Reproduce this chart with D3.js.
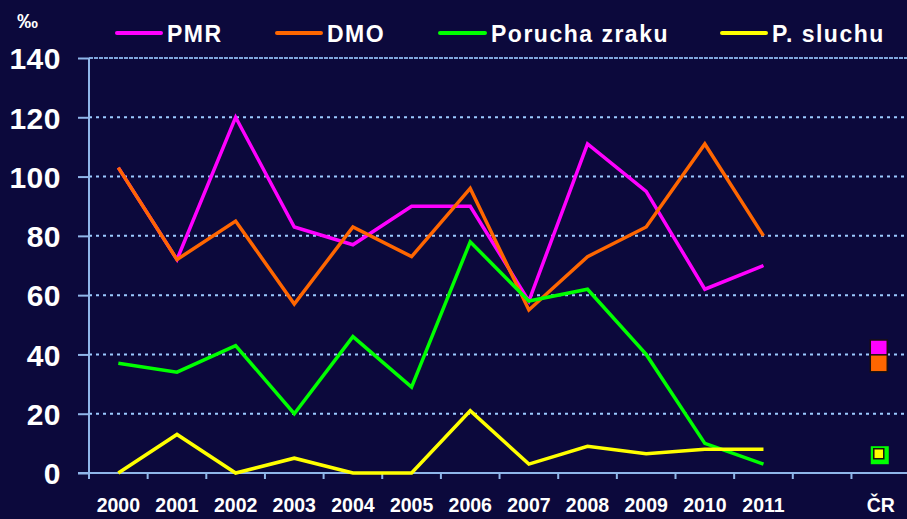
<!DOCTYPE html>
<html>
<head>
<meta charset="utf-8">
<script src="https://cdn.jsdelivr.net/npm/d3@7"></script>
<style>
  body { margin: 0; background: #0c093c; }
  svg { display: block; font-family: Arial, "Liberation Sans", sans-serif; font-weight: bold; }
</style>
</head>
<body>
<script>
// Categories
var years = ["2000","2001","2002","2003","2004","2005","2006","2007","2008","2009","2010","2011"];
var categories = years.concat([" ", "ČR"]);
var yTicks = [0, 20, 40, 60, 80, 100, 120, 140];

// Series values (‰)
var pmr    = [103, 72, 120, 83, 77, 90, 90, 58, 111, 95, 62, 70];
var dmo    = [103, 72, 85, 57, 83, 73, 96, 55, 73, 83, 111, 80];
var zrak   = [37, 34, 43, 20, 46, 29, 78, 58, 62, 40, 10, 3];
var sluch  = [0, 13, 0, 5, 0, 0, 21, 3, 9, 6.5, 8, 8];

// ČR values
var crValues = [42, 37, 6, 6.5];
var seriesNames = ["PMR", "DMO", "Porucha zraku", "P. sluchu"];
var seriesColors = ["#ff00ff", "#ff6600", "#00ff00", "#ffff00"];

// Width and height
var w = 907;
var h = 519;

var svg = d3.select("body")
      .append("svg")
      .attr("width", w)
      .attr("height", h);

svg.append("rect").attr("width", w).attr("height", h).attr("fill", "#0c093c");

var x = d3.scaleBand()
      .domain(categories)
      .range([89, 89 + 14 * 58.65]);

var y = d3.scaleLinear()
      .domain([0, 140])
      .range([473, 58]);

var axisColor = "#8fb6ea";

// Gridlines
svg.selectAll("line.grid")
   .data(yTicks.filter(function(d) { return d > 0; }))
   .enter()
   .append("line")
   .attr("class", "grid")
   .attr("x1", 89)
   .attr("x2", w)
   .attr("y1", function(d) { return y(d); })
   .attr("y2", function(d) { return y(d); })
   .attr("stroke", function(d) { return d === 140 ? "#7fa6dc" : "#9ccaff"; })
   .attr("stroke-width", 2)
   .attr("stroke-dasharray", function(d) { return d === 140 ? "4,1" : "3,4"; });

// Y axis
var yAxis = d3.axisLeft(y)
      .tickValues(yTicks)
      .tickSize(11)
      .tickPadding(17);

var gy = svg.append("g")
      .attr("transform", "translate(89,0)")
      .call(yAxis);
gy.select(".domain").attr("stroke", axisColor).attr("stroke-width", 2).attr("d", "M0," + y(140) + "V" + (y(0) + 6));
gy.selectAll(".tick line").attr("stroke", axisColor).attr("stroke-width", 2);
gy.selectAll(".tick text")
  .attr("fill", "#ffffff")
  .attr("font-size", "30px")
  .attr("font-weight", "bold")
  .attr("letter-spacing", "0.5px")
  .attr("dy", "0.36em")
  .attr("font-family", "Arial, 'Liberation Sans', sans-serif");

// X axis
var xAxis = d3.axisBottom(x)
      .tickSize(0)
      .tickPadding(25);

var gx = svg.append("g")
      .attr("transform", "translate(0," + y(0) + ")")
      .call(xAxis);
gx.select(".domain").attr("stroke", axisColor).attr("stroke-width", 2).attr("d", "M78,0H" + w);
gx.selectAll(".tick text")
  .attr("fill", "#ffffff")
  .attr("font-size", "19.5px")
  .attr("font-weight", "bold")
  .attr("font-family", "Arial, 'Liberation Sans', sans-serif");

// Category boundary ticks
svg.selectAll("line.xtick")
   .data(categories.slice(1))
   .enter()
   .append("line")
   .attr("class", "xtick")
   .attr("x1", function(d) { return x(d); })
   .attr("x2", function(d) { return x(d); })
   .attr("y1", y(0))
   .attr("y2", y(0) + 6)
   .attr("stroke", axisColor)
   .attr("stroke-width", 2);

// Unit label
svg.append("text")
   .attr("x", 17)
   .attr("y", 28)
   .attr("fill", "#ffffff")
   .attr("font-size", "21px")
   .text("‰");

// Lines
var line = d3.line()
      .x(function(d, i) { return x(years[i]) + x.bandwidth() / 2; })
      .y(function(d) { return y(d); });

var allSeries = [pmr, dmo, zrak, sluch];

svg.selectAll("path.series")
   .data(allSeries)
   .enter()
   .append("path")
   .attr("class", "series")
   .attr("d", line)
   .attr("fill", "none")
   .attr("stroke", function(d, i) { return seriesColors[i]; })
   .attr("stroke-width", 3.5)
   .attr("stroke-linejoin", "miter");

// ČR markers
var crX = x("ČR") + x.bandwidth() / 2;
var markerSize = [17, 17, 18, 10];
svg.selectAll("rect.cr")
   .data(crValues)
   .enter()
   .append("rect")
   .attr("class", "cr")
   .attr("x", function(d, i) { return crX - markerSize[i] / 2 - (i === 2 ? 1 : 2); })
   .attr("y", function(d, i) { return y(d) - markerSize[i] / 2; })
   .attr("width", function(d, i) { return markerSize[i]; })
   .attr("height", function(d, i) { return markerSize[i]; })
   .attr("fill", function(d, i) { return seriesColors[i]; })
   .attr("stroke", "#1a1010")
   .attr("stroke-width", function(d, i) { return i === 2 ? 0 : 1.5; });

// Legend
var legendX = [117, 277, 440, 722];
var legend = svg.selectAll("g.legend")
      .data(seriesNames)
      .enter()
      .append("g")
      .attr("class", "legend")
      .attr("transform", function(d, i) { return "translate(" + legendX[i] + ",33)"; });

legend.append("line")
   .attr("x1", 0)
   .attr("x2", function(d, i) { return i === 2 ? 45 : 44; })
   .attr("stroke", function(d, i) { return seriesColors[i]; })
   .attr("stroke-width", 4)
   .attr("stroke-linecap", "round");

legend.append("text")
   .attr("x", function(d, i) { return i === 2 ? 51 : 50; })
   .attr("y", 9)
   .attr("fill", "#ffffff")
   .attr("font-size", "23px")
   .attr("letter-spacing", "1.5px")
   .text(function(d) { return d; });
</script>
</body>
</html>
